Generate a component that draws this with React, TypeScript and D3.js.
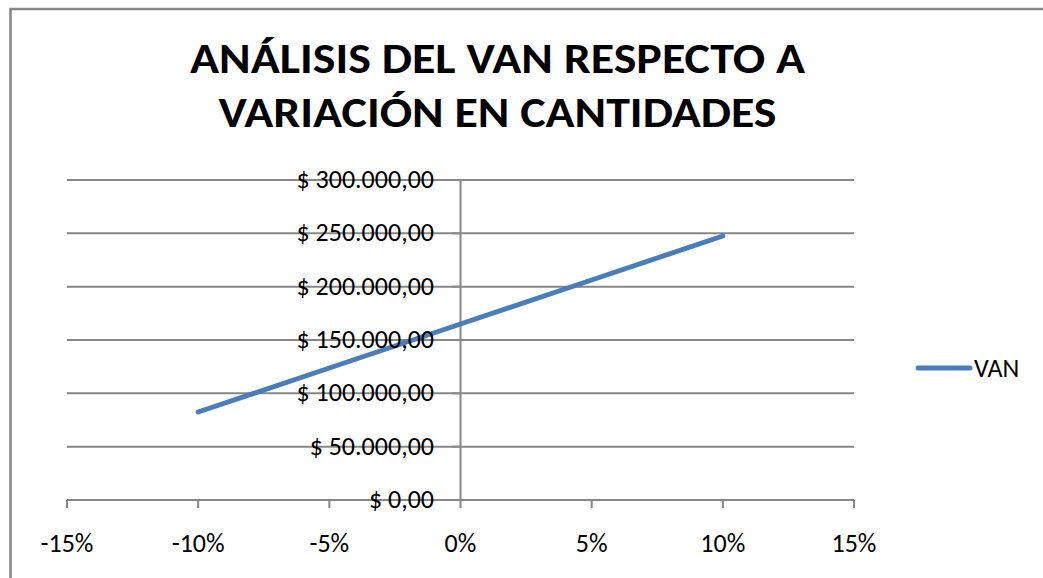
import React from "react";
import * as d3 from "d3";

const titleLines = ["ANÁLISIS DEL VAN RESPECTO A", "VARIACIÓN EN CANTIDADES"];
const variation = [-0.1, -0.05, 0, 0.05, 0.1];
const van = [82500, 123750, 165000, 206250, 247500];
const xTicks = [-0.15, -0.1, -0.05, 0, 0.05, 0.1, 0.15];
const yTicks = [0, 50000, 100000, 150000, 200000, 250000, 300000];
const seriesName = "VAN";

const W = 1043;
const H = 578;
const FONT = 'Carlito, Calibri, Lato, "DejaVu Sans", sans-serif';

const fmtMoney = (v: number) => {
  const fixed = v.toFixed(2);
  const [intPart, dec] = fixed.split(".");
  const withDots = intPart.replace(/\B(?=(\d{3})+(?!\d))/g, ".");
  return `$ ${withDots},${dec}`;
};
const fmtPct = (v: number) => `${Math.round(v * 100)}%`;

export default function App() {
  const x = d3.scaleLinear().domain([-0.15, 0.15]).range([67, 854]);
  const y = d3.scaleLinear().domain([0, 300000]).range([500, 180]);
  const line = d3
    .line<number>()
    .x((_, i) => x(variation[i]))
    .y((d) => y(d));
  const gridColor = "#878787";
  const x0 = x(0);

  return (
    <svg
      width={W}
      height={H}
      style={{ position: "absolute", left: 0, top: 0, background: "#fff" }}
      fontFamily={FONT}
    >
      <rect x={0} y={0} width={W} height={H} fill="#fff" />
      <rect x={10.5} y={9} width={1100} height={700} fill="none" stroke="#878787" strokeWidth={2.5} />

      {titleLines.map((t, i) => (
        <text
          key={i}
          x={497.5}
          y={73 + i * 54}
          textAnchor="middle"
          fontSize={43}
          fontWeight="bold"
          fill="#000"
          textLength={i === 0 ? 615 : 558}
          lengthAdjust="spacingAndGlyphs"
        >
          {t}
        </text>
      ))}

      {yTicks.map((t) => (
        <g key={t}>
          <line x1={67} x2={854} y1={y(t)} y2={y(t)} stroke={gridColor} strokeWidth={2} />
          <line x1={452} x2={x0} y1={y(t)} y2={y(t)} stroke={gridColor} strokeWidth={2} />
        </g>
      ))}

      <line x1={x0} x2={x0} y1={y(300000)} y2={y(0)} stroke={gridColor} strokeWidth={2} />
      <line x1={67} x2={854} y1={y(0)} y2={y(0)} stroke={gridColor} strokeWidth={2} />
      {xTicks.map((t) => (
        <line key={t} x1={x(t)} x2={x(t)} y1={y(0)} y2={y(0) + 8} stroke={gridColor} strokeWidth={2} />
      ))}

      <path
        d={line(van) || ""}
        fill="none"
        stroke="#4A7EBB"
        strokeWidth={5}
        strokeLinecap="round"
        strokeLinejoin="round"
      />

      {yTicks.map((t) => (
        <text key={t} x={434} y={y(t) + 8} textAnchor="end" fontSize={26} fill="#000">
          {fmtMoney(t)}
        </text>
      ))}

      {xTicks.map((t) => (
        <text key={t} x={x(t)} y={552} textAnchor="middle" fontSize={26} fill="#000">
          {fmtPct(t)}
        </text>
      ))}

      <line x1={918} x2={970} y1={368} y2={368} stroke="#4A7EBB" strokeWidth={5} strokeLinecap="round" />
      <text x={974} y={377} fontSize={26} fill="#000">
        {seriesName}
      </text>
    </svg>
  );
}
